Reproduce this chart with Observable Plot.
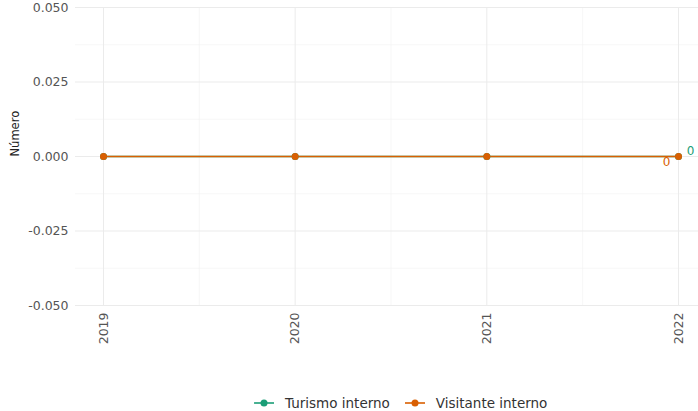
<!DOCTYPE html>
<html><head><meta charset="utf-8">
<script src="https://cdn.jsdelivr.net/npm/d3@7"></script>
<script src="https://cdn.jsdelivr.net/npm/@observablehq/plot@0.6"></script>
<style>
body{margin:0;background:#fff;font-family:"DejaVu Sans",sans-serif}
#legend{display:flex;align-items:center;height:22px;line-height:22px;padding-left:253px;font-size:13.5px;color:#333}
.item{display:flex;align-items:center;margin-right:14px}
.item svg{margin-right:10px}
</style>
</head><body><div id="chart"></div><div id="legend"></div><script>
const years = [2019, 2020, 2021, 2022];
const turismo = [0, 0, 0, 0];
const visitante = [0, 0, 0, 0];
const seriesNames = ["Turismo interno", "Visitante interno"];
const seriesColors = ["#1b9e77", "#d95f02"];
const yTicks = [-0.05, -0.025, 0, 0.025, 0.05];
const yMinor = [-0.0375, -0.0125, 0.0125, 0.0375];
const xMinor = [2019.5, 2020.5, 2021.5];

const data = [
  ...years.map((y, i) => ({year: y, value: turismo[i], serie: seriesNames[0]})),
  ...years.map((y, i) => ({year: y, value: visitante[i], serie: seriesNames[1]}))
];
const lastT = data.filter(d => d.serie === seriesNames[0] && d.year === years[years.length - 1]);
const lastV = data.filter(d => d.serie === seriesNames[1] && d.year === years[years.length - 1]);

const chart = Plot.plot({
  width: 698, height: 392,
  marginLeft: 75, marginRight: 0, marginTop: 7, marginBottom: 87,
  style: {fontFamily: "DejaVu Sans", fontSize: "12.5px", color: "#555", background: "#fff"},
  x: {domain: [2019, 2022], range: [103, 678]},
  y: {domain: [-0.05, 0.05]},
  color: {domain: seriesNames, range: seriesColors},
  marks: [
    Plot.ruleY(yMinor, {stroke: "#f2f2f2", strokeWidth: 0.6}),
    Plot.ruleX(xMinor, {stroke: "#f2f2f2", strokeWidth: 0.6}),
    Plot.ruleY(yTicks, {stroke: "#ebebeb", strokeWidth: 1}),
    Plot.ruleX(years, {stroke: "#ebebeb", strokeWidth: 1}),
    Plot.axisY({ticks: yTicks, tickSize: 0, tickPadding: 7, label: null, tickFormat: d => d.toFixed(3)}),
    Plot.axisX({ticks: years, tickSize: 0, tickPadding: 7, tickRotate: -90, label: null, tickFormat: d => String(d)}),
    Plot.line(data, {x: "year", y: "value", stroke: "serie", strokeWidth: 1.7}),
    Plot.dot(data, {x: "year", y: "value", fill: "serie", r: 3.5}),
    Plot.text(lastT, {x: "year", y: "value", text: d => String(d.value), fill: seriesColors[0], dx: 12, dy: -5, fontSize: 12}),
    Plot.text(lastV, {x: "year", y: "value", text: d => String(d.value), fill: seriesColors[1], dx: -12, dy: 6, fontSize: 12}),
    Plot.text(["Número"], {text: d => d, frameAnchor: "left", dx: -60, rotate: -90, fill: "#222", fontSize: 11.5})
  ]
});
document.getElementById("chart").appendChild(chart);

const legend = document.getElementById("legend");
seriesNames.forEach((name, i) => {
  const item = document.createElement("div");
  item.className = "item";
  item.innerHTML = `<svg width="22" height="10"><line x1="1" x2="21" y1="5" y2="5" stroke="${seriesColors[i]}" stroke-width="1.6"/><circle cx="11" cy="5" r="3.5" fill="${seriesColors[i]}"/></svg><span>${name}</span>`;
  legend.appendChild(item);
});
</script></body></html>
